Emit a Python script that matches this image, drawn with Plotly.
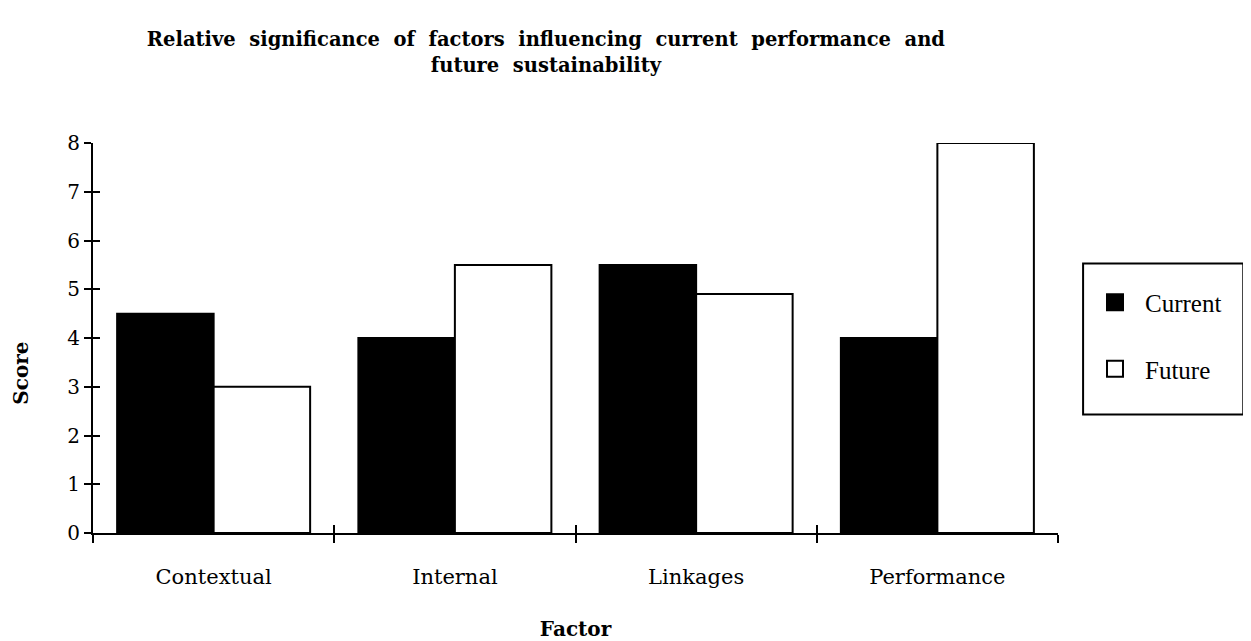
import plotly.graph_objects as go

categories = ["Contextual", "Internal", "Linkages", "Performance"]
current = [4.5, 4.0, 5.5, 4.0]
future = [3.0, 5.5, 4.9, 8.0]
y_ticks = [0, 1, 2, 3, 4, 5, 6, 7, 8]
boundary_ticks = [0.5, 1.5, 2.5, 3.5]

SERIF = "Liberation Serif, Times New Roman, serif"
WIDE = "DejaVu Serif, serif"

fig = go.Figure()
fig.add_trace(go.Bar(name="Current", x=categories, y=current, showlegend=False,
                     marker=dict(color="black", line=dict(color="black", width=2))))
fig.add_trace(go.Bar(name="Future", x=categories, y=future, showlegend=False,
                     marker=dict(color="white", line=dict(color="black", width=2))))
# legend entries with large square swatches
fig.add_trace(go.Scatter(name="Current", x=[None], y=[None], mode="markers", legendgroup="cur",
                         marker=dict(symbol="square", size=24, color="black",
                                     line=dict(color="black", width=2))))
fig.add_trace(go.Scatter(name="Future", x=[None], y=[None], mode="markers", legendgroup="fut",
                         marker=dict(symbol="square", size=24, color="white",
                                     line=dict(color="black", width=2))))
# invisible helper trace for overlay axes (cross ticks)
fig.add_trace(go.Scatter(x=[0], y=[0], xaxis="x2", yaxis="y2", mode="markers",
                         marker=dict(opacity=0), showlegend=False, hoverinfo="skip"))

title_text = ("Relative&nbsp; significance&nbsp; of&nbsp; factors&nbsp; influencing&nbsp; current&nbsp; performance&nbsp; and"
              "<br>future&nbsp; sustainability")

fig.update_layout(
    width=1251, height=641,
    paper_bgcolor="white", plot_bgcolor="white",
    margin=dict(l=85, r=201, t=135, b=114),
    barmode="group", bargap=0.2, bargroupgap=0.0,
    font=dict(family=WIDE, color="black", size=20),
    title=dict(text="<b>" + title_text + "</b>", x=0.43, xanchor="center",
               y=0.94, yanchor="top", font=dict(family=WIDE, size=19.5)),
    xaxis=dict(showline=True, linecolor="black", linewidth=2,
               ticks="outside", tickson="boundaries", ticklen=8, tickwidth=2, tickcolor="black",
               showgrid=False, ticklabelstandoff=24,
               title=dict(text="<b>Factor</b>", font=dict(size=20), standoff=34),
               tickfont=dict(size=21)),
    yaxis=dict(range=[0, 8], showline=True, linecolor="black", linewidth=2,
               tickvals=y_ticks, ticks="outside", ticklen=7, tickwidth=2, tickcolor="black",
               showgrid=False, zeroline=False, ticklabelstandoff=0,
               tickfont=dict(size=20)),
    xaxis2=dict(overlaying="x", anchor="y2", range=[-0.5, 3.5], tickvals=boundary_ticks,
                ticks="inside", ticklen=8, tickwidth=2, tickcolor="black",
                showticklabels=False, showgrid=False, zeroline=False, showline=False),
    yaxis2=dict(overlaying="y", anchor="x2", range=[0, 8], tickvals=y_ticks,
                ticks="inside", ticklen=7, tickwidth=2, tickcolor="black",
                showticklabels=False, showgrid=False, zeroline=False, showline=False),
    annotations=[dict(text="<b>Score</b>", textangle=-90, xref="paper", yref="paper",
                      x=-0.074, y=0.41, xanchor="center", yanchor="middle",
                      showarrow=False, font=dict(family=WIDE, size=20))],
    shapes=[dict(type="rect", xref="paper", yref="paper",
                 x0=1.026, x1=1.192, y0=0.304, y1=0.691,
                 line=dict(color="black", width=2), fillcolor="rgba(0,0,0,0)")],
    legend=dict(x=1.028, y=0.65, xanchor="left", yanchor="top",
                borderwidth=0, bgcolor="rgba(0,0,0,0)",
                font=dict(family=SERIF, size=25), itemsizing="trace",
                tracegroupgap=31, traceorder="grouped", itemwidth=50),
)

fig.write_html("out.html")
